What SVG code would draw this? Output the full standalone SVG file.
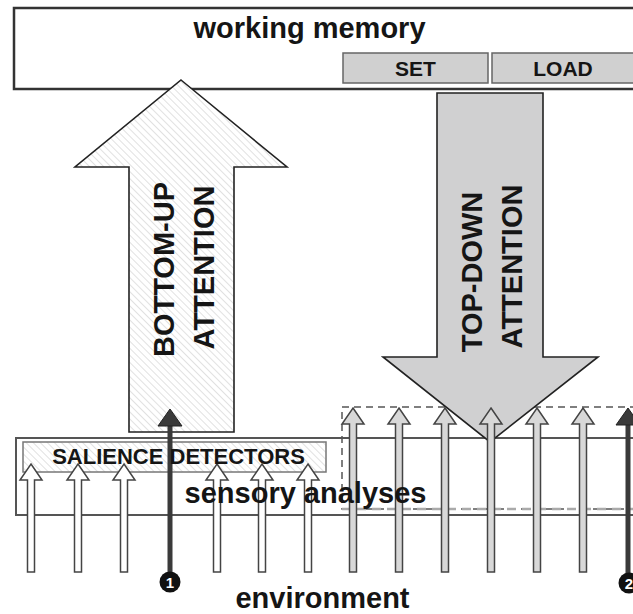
<svg xmlns="http://www.w3.org/2000/svg" xmlns:xlink="http://www.w3.org/1999/xlink" width="633" height="614" viewBox="0 0 633 614">
<style>
text{font-family:"Liberation Sans",Arial,sans-serif;font-weight:bold;fill:#151515}
.big{font-size:29px}
.btn{font-size:21px}
.sal{font-size:22px}
.box{fill:#fff;stroke:#333;stroke-width:2.5}
.gbox{fill:#d0d0d0;stroke:#666;stroke-width:1.5}
.sens{fill:#fff;stroke:#555;stroke-width:2}
.bigarrow{stroke:#222;stroke-width:1.6;stroke-linejoin:miter}
.sa{stroke:#444;stroke-width:1.5;stroke-linejoin:miter}
.sa-w{fill:#fff}
.sa-g{fill:#d8d8d8}
.dark{fill:#3a3a3a;stroke:#222;stroke-width:1}
</style>
<defs>
<pattern id="hatch" patternUnits="userSpaceOnUse" width="5" height="5" patternTransform="rotate(-45)">
<rect width="5" height="5" fill="#fff"/>
<line x1="0" y1="0" x2="0" y2="5" stroke="#d2d2d2" stroke-width="1.3"/>
</pattern>
<path id="saShort" d="M0,0 L11,16 L3.5,16 L3.5,108 L-3.5,108 L-3.5,16 L-11,16 Z"/>
<path id="saLong" d="M0,0 L11,16 L3.5,16 L3.5,164 L-3.5,164 L-3.5,16 L-11,16 Z"/>
</defs>

<g id="working-memory">
<rect class="box" x="14" y="8" width="626" height="81"/>
<text class="big" x="309.5" y="38" text-anchor="middle">working memory</text>
</g>
<g id="set">
<rect class="gbox" x="343" y="53" width="145" height="30"/>
<text class="btn" x="415.5" y="76" text-anchor="middle">SET</text>
</g>
<g id="load">
<rect class="gbox" x="492" y="53" width="148" height="30"/>
<text class="btn" x="563" y="76" text-anchor="middle">LOAD</text>
</g>

<g id="sensory-analyses">
<rect class="sens" x="16" y="438" width="625" height="77"/>
</g>
<g id="salience-detectors">
<rect x="23" y="442" width="303" height="30" fill="url(#hatch)" stroke="#777" stroke-width="1.5"/>
</g>
<g id="attended-region">
<rect x="342" y="407" width="300" height="102" fill="none" stroke="#555" stroke-width="1.5" stroke-dasharray="7,5"/>
<line x1="342" y1="509" x2="640" y2="509" stroke="#aaa" stroke-width="2.5" stroke-dasharray="9,6"/>
</g>

<g id="bottom-up-attention">
<path class="bigarrow" fill="url(#hatch)" d="M181,80 L287,167 L234,167 L234,432 L129,432 L129,167 L75,167 Z"/>
<text class="big" transform="translate(163.5,269.5) rotate(-90)" x="0" y="10.4" text-anchor="middle">BOTTOM-UP</text>
<text class="big" transform="translate(204,267.5) rotate(-90)" x="0" y="10.4" text-anchor="middle">ATTENTION</text>
</g>

<g id="top-down-attention">
<path class="bigarrow" fill="#d0d0d1" d="M437,93 L543,93 L543,357 L598,357 L490,442 L383,357 L437,357 Z"/>
<text class="big" transform="translate(471.5,272) rotate(-90)" x="0" y="10.4" text-anchor="middle">TOP-DOWN</text>
<text class="big" transform="translate(511.5,266.5) rotate(-90)" x="0" y="10.4" text-anchor="middle">ATTENTION</text>
</g>

<g id="connectors">
<use xlink:href="#saShort" class="sa sa-w" transform="translate(31,464)"/>
<use xlink:href="#saShort" class="sa sa-w" transform="translate(78,464)"/>
<use xlink:href="#saShort" class="sa sa-w" transform="translate(124,464)"/>
<use xlink:href="#saShort" class="sa sa-w" transform="translate(217,464)"/>
<use xlink:href="#saShort" class="sa sa-w" transform="translate(262,464)"/>
<use xlink:href="#saShort" class="sa sa-w" transform="translate(308,464)"/>
<use xlink:href="#saLong" class="sa sa-g" transform="translate(353,408)"/>
<use xlink:href="#saLong" class="sa sa-g" transform="translate(399,408)"/>
<use xlink:href="#saLong" class="sa sa-g" transform="translate(445,408)"/>
<use xlink:href="#saLong" class="sa sa-g" transform="translate(491,408)"/>
<use xlink:href="#saLong" class="sa sa-g" transform="translate(537,408)"/>
<use xlink:href="#saLong" class="sa sa-g" transform="translate(583,408)"/>
<line x1="170" y1="575" x2="170" y2="422" stroke="#3a3a3a" stroke-width="5"/>
<path class="dark" d="M170,409 L182,426 L158,426 Z"/>
<line x1="628" y1="575" x2="628" y2="421" stroke="#3a3a3a" stroke-width="5"/>
<path class="dark" d="M628,408 L640,425 L616,425 Z"/>
</g>

<g id="marker-1">
<circle cx="170" cy="582" r="10.5" fill="#111"/>
<text x="170" y="588" text-anchor="middle" style="font-size:15px;fill:#fff">1</text>
</g>
<g id="marker-2">
<circle cx="629" cy="583" r="10.5" fill="#111"/>
<text x="629" y="589" text-anchor="middle" style="font-size:15px;fill:#fff">2</text>
</g>

<g id="labels">
<text class="sal" x="178.5" y="464" text-anchor="middle">SALIENCE DETECTORS</text>
<text class="big" x="305.5" y="503" text-anchor="middle">sensory analyses</text>
<text id="environment" class="big" x="322.5" y="608" text-anchor="middle">environment</text>
</g>
</svg>
